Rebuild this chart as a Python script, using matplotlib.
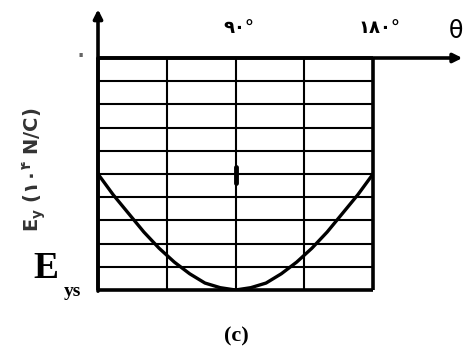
import matplotlib
matplotlib.use("Agg")
from matplotlib import pyplot as plt

plt.rcParams['mathtext.fontset'] = 'custom'
plt.rcParams['mathtext.rm'] = 'DejaVu Sans'
plt.rcParams['mathtext.bf'] = 'DejaVu Sans:bold'

# angle (degrees) and field E_y in grid divisions (full depth = 10 = E_ys)
theta = [0, 10, 20, 30, 40, 50, 60, 70, 80, 90,
         100, 110, 120, 130, 140, 150, 160, 170, 180]
ey = [-5.0, -5.9, -6.7, -7.5, -8.2, -8.8, -9.3, -9.7, -9.9, -10.0,
      -9.9, -9.7, -9.3, -8.8, -8.2, -7.5, -6.7, -5.9, -5.0]

xgrid = [0, 45, 90, 135, 180]
ygrid = list(range(-10, 1))
xlabels = {92: '۹۰°', 184: '۱۸۰°'}

fig = plt.figure(figsize=(4.73, 3.60), dpi=100)
ax = fig.add_axes([98/473, 1-290/360, 275/473, 232/360])
ax.set_xlim(0, 180)
ax.set_ylim(-10, 0)
ax.axis('off')

# grid
for x in xgrid:
    lw = 2.6 if x in (0, 180) else 1.5
    ax.plot([x, x], [-10, 0], color='black', lw=lw, solid_capstyle='butt', clip_on=False)
for y in ygrid:
    lw = 2.6 if y in (-10, 0) else 1.5
    ax.plot([0, 180], [y, y], color='black', lw=lw, solid_capstyle='butt', clip_on=False)

# small thick mark on centre line
ax.plot([90, 90], [-4.7, -5.4], color='black', lw=3.5, solid_capstyle='round')

# curve
ax.plot(theta, ey, color='black', lw=2.4, solid_joinstyle='round')

# axes arrows
ax.annotate('', xy=(0, 1.21), xytext=(0, -0.005), xycoords='axes fraction',
            arrowprops=dict(arrowstyle='-|>', color='black', lw=2.6,
                            mutation_scale=13, shrinkA=0, shrinkB=0))
ax.annotate('', xy=(1.325, 1), xytext=(0, 1), xycoords='axes fraction',
            arrowprops=dict(arrowstyle='-|>', color='black', lw=2.6,
                            mutation_scale=13, shrinkA=0, shrinkB=0))

# tick labels
for x, s in xlabels.items():
    ax.text(x, 0.9, s, ha='center', va='bottom', fontsize=13, fontweight='bold',
            family='DejaVu Sans', clip_on=False)
ax.text(-6, 0.1, '۰', ha='right', va='center', fontsize=22, color='#666666',
        family='DejaVu Sans', clip_on=False)
fig.text(456/473, 1-31/360, 'θ', ha='center', va='center', fontsize=17,
         family='DejaVu Sans')

# y label
fig.text(34/473, 1-170/360, r'$\mathbf{E_y\ (۱۰^{۴}\ N/C)}$', rotation=90,
         ha='center', va='center', fontsize=14, color='#333333')
fig.text(46/473, 1-268/360, 'E', ha='center', va='center', fontsize=27,
         fontweight='bold', family='Liberation Serif')
fig.text(72/473, 1-292/360, 'ys', ha='center', va='center', fontsize=14,
         fontweight='bold', family='Liberation Serif')

# caption
fig.text(236/473, 1-336/360, '(c)', ha='center', va='center', fontsize=16,
         fontweight='bold', family='Liberation Serif')

fig.savefig('out.png', dpi=100)
